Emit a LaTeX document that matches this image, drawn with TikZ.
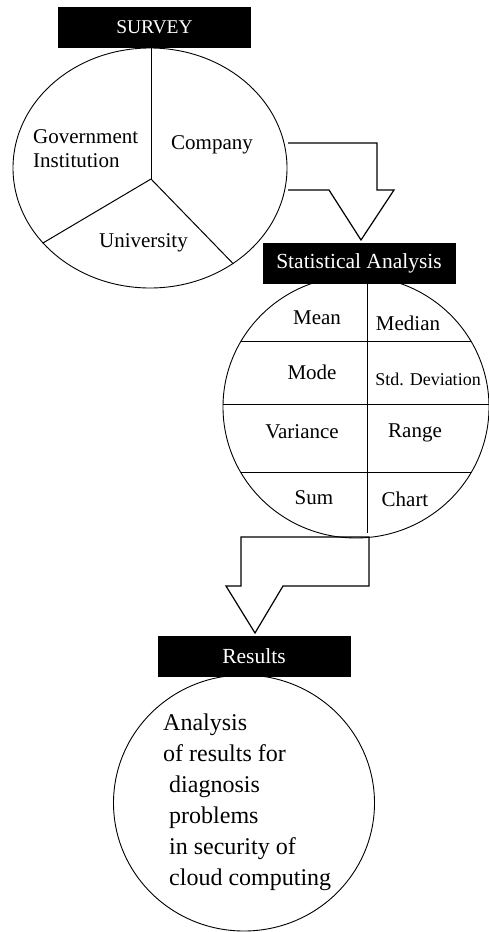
\documentclass[tikz,border=0pt]{standalone}
\usepackage{fontspec}
\setmainfont{Liberation Serif}
\usetikzlibrary{shapes.geometric}

\tikzset{
  head/.style={fill=black,text=white,minimum width=193pt,minimum height=41pt,inner sep=0pt,font=\fontsize{21.5}{25}\selectfont},
  blob/.style={draw,ellipse,line width=0.9pt,inner sep=0pt},
  lbl/.style={inner sep=0pt,font=\fontsize{21}{25}\selectfont},
  fatarrow/.style={draw,line width=1.2pt,line join=miter},
  split/.style={line width=1pt}
}

\begin{document}
\begin{tikzpicture}[x=1pt,y=-1pt]
\useasboundingbox (0,0) rectangle (489,932);
  \node[blob,minimum width=274pt,minimum height=240pt] (survey) at (150,168) {};
  \node[head,font=\fontsize{19.5}{23}\selectfont] (surveyhead) at (154.5,27.5) {SURVEY};
  \coordinate (hub) at (151,179);
  \draw[split] (hub) -- (hub |- surveyhead.south);
  \draw[split] (hub) -- (survey.215.5);
  \draw[split] (hub) -- (survey.311.7);
  \node[lbl,anchor=west,align=left,font=\fontsize{21}{24}\selectfont] (gov) at (33,149) {Government\\Institution};
  \node[lbl] (company) at (212,145) {Company};
  \node[lbl] (uni) at (143.5,243) {University};
  \draw[fatarrow] (288,143) -- (377,143) -- (377,190) -- (394,190) -- (361,240) -- (329,190) -- (288,190);
  \node[blob,minimum width=266pt,minimum height=262pt] (stats) at (356,407) {};
  \node[head] (statshead) at (359,263.5) {Statistical Analysis};
  \begin{scope}
    \clip (stats.center) ellipse (133pt and 131pt);
    \draw[split] (200,341) -- (500,341);
    \draw[split] (200,404) -- (500,404);
    \draw[split] (200,472) -- (500,472);
  \end{scope}
  \coordinate (split end) at (367,533);
  \draw[split] (split end |- statshead.south) -- (split end);
  \node[lbl] (mean) at (317,318) {Mean};
  \node[lbl] (median) at (408,323) {Median};
  \node[lbl] (mode) at (312,372) {Mode};
  \node[lbl,font=\fontsize{18}{22}\selectfont] (stddev) at (428,379) {Std. Deviation};
  \node[lbl] (variance) at (302,432) {Variance};
  \node[lbl] (range) at (415,433) {Range};
  \node[lbl] (sum) at (314,498) {Sum};
  \node[lbl] (chart) at (405,499) {Chart};
  \draw[fatarrow] (241,537) -- (369,537) -- (369,586) -- (283,586) -- (255,633) -- (226,586) -- (241,586) -- cycle;
  \node[blob,minimum width=261pt,minimum height=256pt] (results) at (244,803) {};
  \node[head] (resultshead) at (254,656.5) {Results};
  \node[lbl,anchor=west,align=left,font=\fontsize{24}{31}\selectfont] (findings) at (163,802) {Analysis\\of results for\\\hspace*{6pt}diagnosis\\\hspace*{6pt}problems\\\hspace*{6pt}in security of\\\hspace*{6pt}cloud computing};
\end{tikzpicture}
\end{document}
